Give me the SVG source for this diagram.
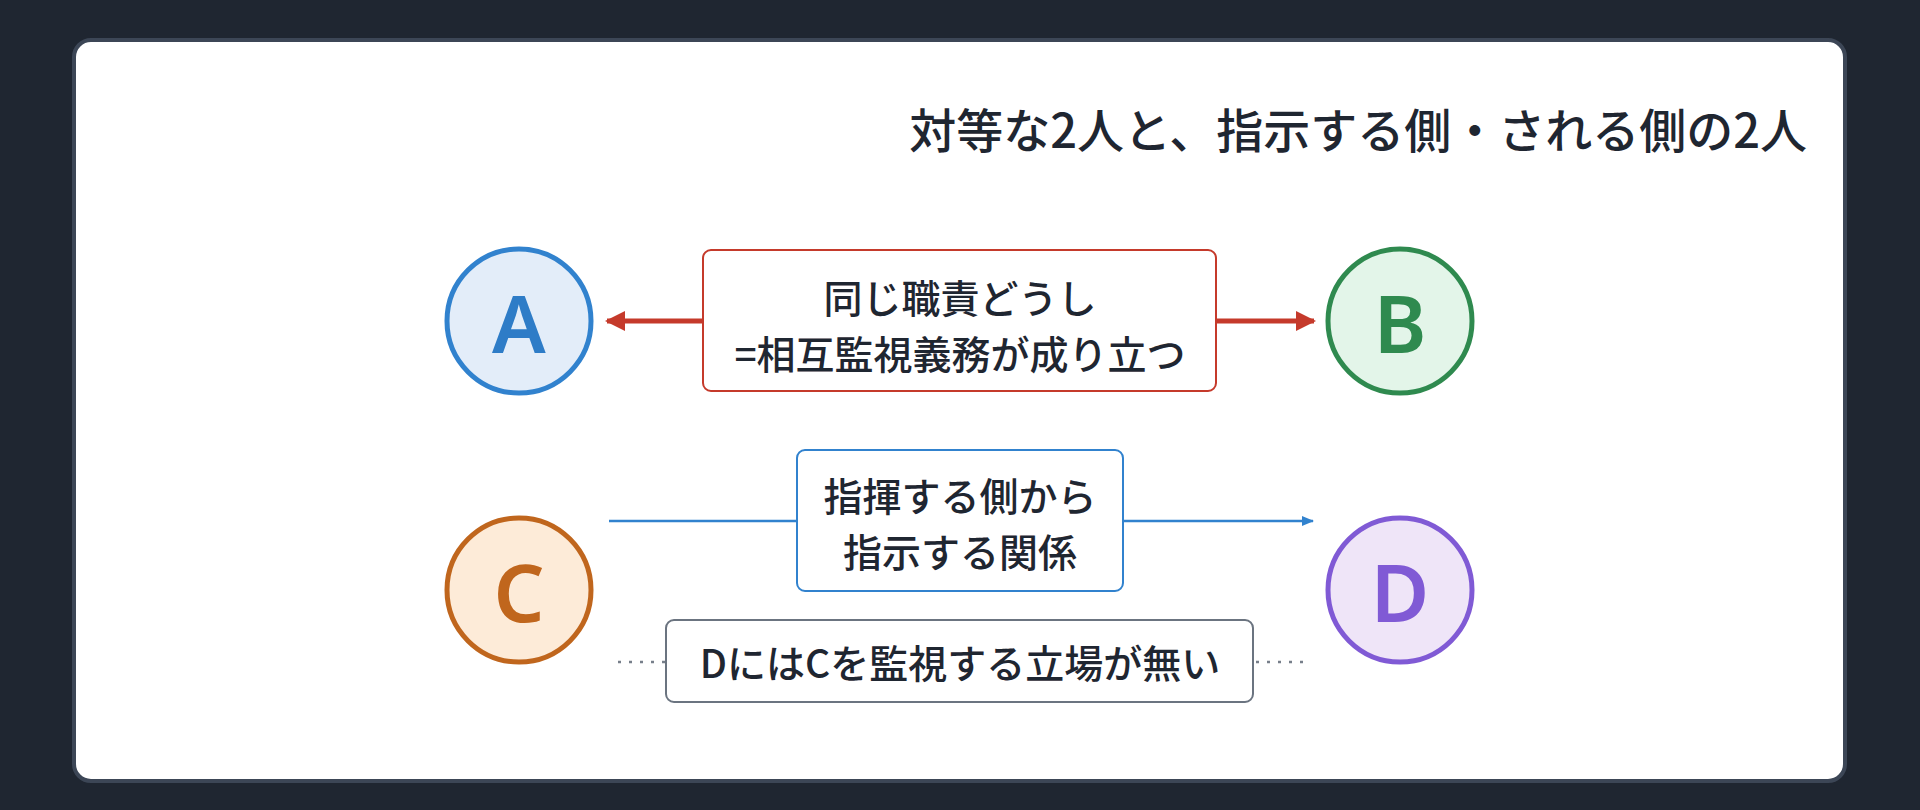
<svg xmlns="http://www.w3.org/2000/svg" width="1920" height="810" viewBox="0 0 1920 810">
<defs>
<style>
text{font-family:"Noto Sans CJK JP","Noto Sans",sans-serif;fill:#1f2631}
.t{font-size:39px;font-weight:500;text-anchor:middle;dominant-baseline:central}
.l{font-size:80px;font-weight:600;text-anchor:middle;dominant-baseline:central;font-family:"Noto Sans",sans-serif}
</style>
<marker id="mr" viewBox="0 0 10 10" refX="9" refY="5" markerWidth="4" markerHeight="4" orient="auto-start-reverse"><path d="M0,0L10,5L0,10z" fill="#c53a2b"/></marker>
<marker id="mb" viewBox="0 0 10 10" refX="9" refY="5" markerWidth="5" markerHeight="5" orient="auto"><path d="M0,1L10,5L0,9z" fill="#3182ce"/></marker>
</defs>
<rect width="1920" height="810" fill="#1f2631"/>
<rect x="74" y="40" width="1771" height="741" rx="17" fill="#fff" stroke="#3c4656" stroke-width="4"/>
<text x="1807" y="127" font-size="47" text-anchor="end" dominant-baseline="central" font-weight="500">対等な2人と、指示する側・される側の2人</text>
<g id="connectors">
<line x1="607" y1="321" x2="1314" y2="321" stroke="#c53a2b" stroke-width="5" marker-start="url(#mr)" marker-end="url(#mr)"/>
<line x1="609" y1="521" x2="1313" y2="521" stroke="#3182ce" stroke-width="2.5" marker-end="url(#mb)"/>
<line x1="618" y1="662" x2="1310" y2="662" stroke="#777f8a" stroke-width="2.5" stroke-dasharray="3 8"/>
</g>
<g id="A"><circle cx="519" cy="321" r="72" fill="#e3edf9" stroke="#3182ce" stroke-width="5"/><text class="l" x="519" y="321" style="fill:#2e7cc7">A</text></g>
<g id="B"><circle cx="1400" cy="321" r="72" fill="#e3f5e9" stroke="#2f8a4f" stroke-width="5"/><text class="l" x="1400" y="321" style="fill:#2f8a4f">B</text></g>
<g id="C"><circle cx="519" cy="590" r="72" fill="#fdebd8" stroke="#c0661d" stroke-width="5"/><text class="l" x="519" y="590" style="fill:#c0661d">C</text></g>
<g id="D"><circle cx="1400" cy="590" r="72" fill="#efe5f8" stroke="#805ad5" stroke-width="5"/><text class="l" x="1400" y="590" style="fill:#805ad5">D</text></g>
<g id="red-label"><rect x="703" y="250" width="513" height="141" rx="8" fill="#fff" stroke="#c53a2b" stroke-width="2"/><text class="t" x="960" y="296">同じ職責どうし</text><text class="t" x="960" y="352">=相互監視義務が成り立つ</text></g>
<g id="blue-label"><rect x="797" y="450" width="326" height="141" rx="8" fill="#fff" stroke="#3182ce" stroke-width="2"/><text class="t" x="960" y="494">指揮する側から</text><text class="t" x="960" y="550">指示する関係</text></g>
<g id="gray-label"><rect x="666" y="620" width="587" height="82" rx="8" fill="#fff" stroke="#6b7480" stroke-width="2"/><text class="t" x="960" y="661">DにはCを監視する立場が無い</text></g>
</svg>
